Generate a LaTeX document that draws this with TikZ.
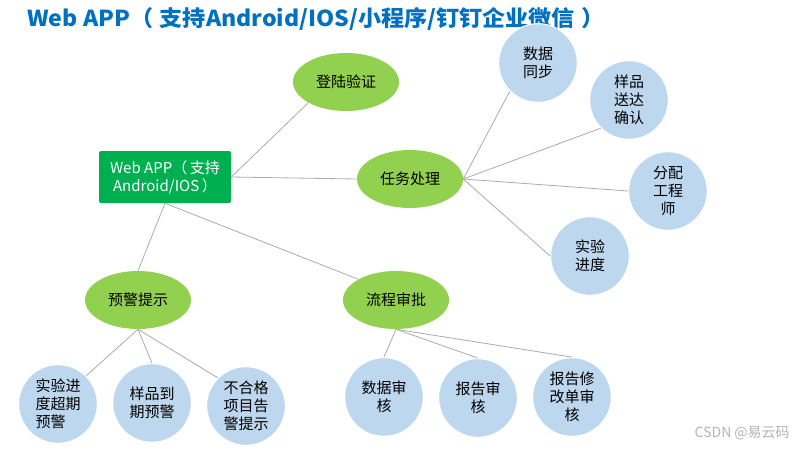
\documentclass[tikz,border=0pt]{standalone}
\usepackage{fontspec}
\setmainfont{Noto Sans CJK SC}
\newfontfamily\titlefont{Noto Sans CJK SC}[FakeStretch=1.05]
\usetikzlibrary{shapes.geometric}
\definecolor{titleblue}{HTML}{0070C0}
\definecolor{rootgreen}{HTML}{00B050}
\definecolor{leafgreen}{HTML}{92D050}
\definecolor{skyblue}{HTML}{BDD7EE}
\definecolor{linegray}{HTML}{ABABAB}
\definecolor{wmgray}{HTML}{B4B4B4}
\begin{document}
\begin{tikzpicture}[x=0.75pt,y=-0.75pt,
  link/.style={draw=linegray, line width=0.6pt},
  nodefont/.style={font=\fontsize{11.25}{13.5}\selectfont},
  greenell/.style={ellipse, fill=leafgreen, minimum width=79.5pt, minimum height=43.5pt, inner sep=0pt, nodefont},
  bluecirc/.style={circle, fill=skyblue, draw=white, line width=0.8pt, minimum size=59pt, inner sep=0pt, align=center, nodefont},
  rootbox/.style={rectangle, rounded corners=1.5pt, fill=rootgreen, text=white, minimum width=99pt, minimum height=39pt, inner sep=0pt, align=center, nodefont}]
\useasboundingbox (0,0) rectangle (800,450);
\fill[white] (0,0) rectangle (800,450);

\node[anchor=west, inner sep=0pt, text=titleblue, font=\titlefont\fontsize{16.5}{19}\selectfont\bfseries] (title) at (27,19) {Web APP（\kern5pt 支持Android/IOS/小程序/钉钉企业微信\kern5pt）};

\node[rootbox] (root) at (165,177) {Web APP（\kern2pt 支持\\Android/IOS\kern2pt）};

\node[greenell] (login) at (346,82) {登陆验证};
\node[greenell] (task) at (410,179) {任务处理};
\node[greenell] (warn) at (138,300) {预警提示};
\node[greenell] (flow) at (396,300) {流程审批};

\node[bluecirc] (sync) at (538,63) {数据\\同步};
\node[bluecirc] (deliver) at (629,100) {样品\\送达\\确认};
\node[bluecirc] (assign) at (668,191) {分配\\工程\\师};
\node[bluecirc] (progress) at (590,256) {实验\\进度};

\node[bluecirc, align=left] (overdue) at (58,404) {实验进\\度超期\\预警};
\node[bluecirc] (expire) at (152,403) {样品到\\期预警};
\node[bluecirc] (unqual) at (246,406) {不合格\\项目告\\警提示};

\node[bluecirc] (datarev) at (384,397) {数据审\\核};
\node[bluecirc] (reportrev) at (478,398) {报告审\\核};
\node[bluecirc] (modrev) at (572,397) {报告修\\改单审\\核};

\draw[link] (root.east) -- (login.south west);
\draw[link] (root.east) -- (task.west);
\draw[link] (root.south) -- (warn.north);
\draw[link] (root.south) -- (flow.north west);

\draw[link] (task.east) -- (sync.south west);
\draw[link] (task.east) -- (deliver.south west);
\draw[link] (task.east) -- (assign.west);
\draw[link] (task.east) -- (progress.west);

\draw[link] (warn.south) -- (overdue.north east);
\draw[link] (warn.south) -- (expire.north);
\draw[link] (warn.south) -- (unqual.north west);

\draw[link] (flow.south) -- (datarev.north);
\draw[link] (flow.south) -- (reportrev.north);
\draw[link] (flow.south) -- (modrev.north);

\node[anchor=east, inner sep=0pt, text=wmgray, font=\fontsize{10.5}{12}\selectfont] (wm) at (790,433) {CSDN @易云码};
\end{tikzpicture}
\end{document}
